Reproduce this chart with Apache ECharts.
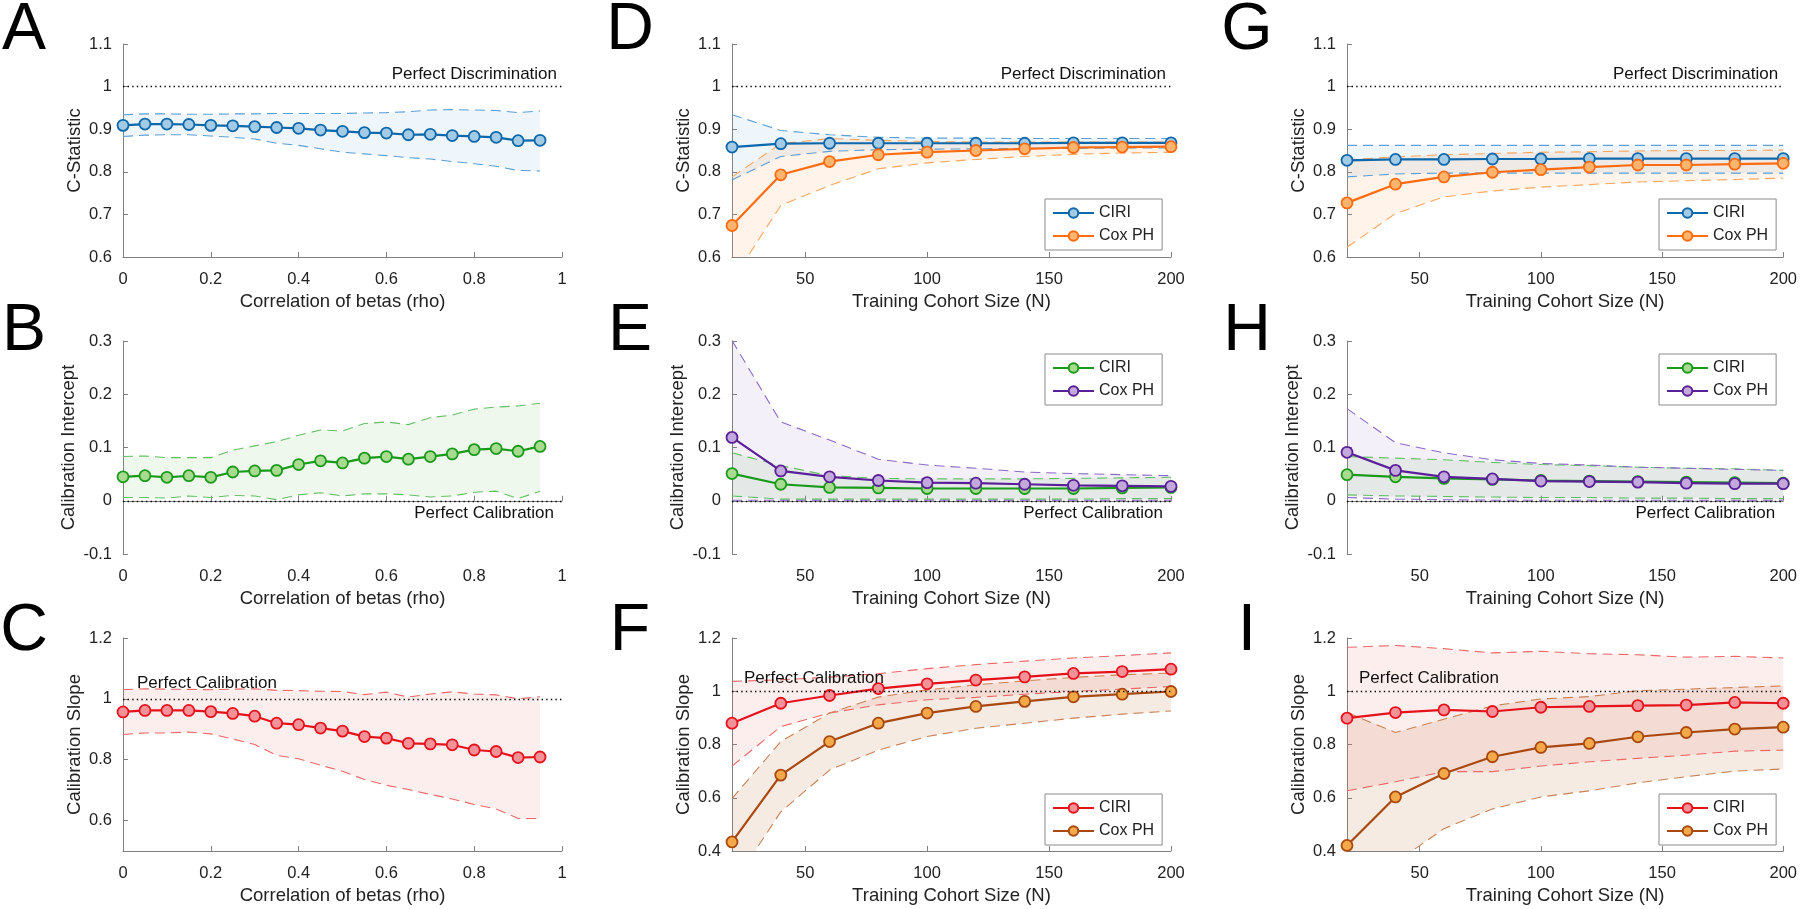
<!DOCTYPE html>
<html><head><meta charset="utf-8">
<script src="https://cdn.jsdelivr.net/npm/echarts@6/dist/echarts.min.js"></script>
<style>html,body{margin:0;padding:0;background:#fff}#chart{width:1800px;height:909px}</style>
</head><body><div id="chart"></div>
<script>
// ---------------- DATA ----------------
const rho = [0, 0.05, 0.1, 0.15, 0.2, 0.25, 0.3, 0.35, 0.4, 0.45, 0.5, 0.55, 0.6, 0.65, 0.7, 0.75, 0.8, 0.85, 0.9, 0.95];
const N = [20, 40, 60, 80, 100, 120, 140, 160, 180, 200];
const N_TICKS = [50, 100, 150, 200];
const SLOPE_C_TICKS = [0.6, 0.8, 1, 1.2];
const REF_C = 1, REF_INT = 0, REF_SLOPE = 1;

const A_mean = [0.909, 0.912, 0.912, 0.911, 0.909, 0.908, 0.906, 0.904, 0.902, 0.898, 0.895, 0.892, 0.891, 0.887, 0.888, 0.885, 0.883, 0.881, 0.873, 0.874];
const A_hi   = [0.934, 0.936, 0.936, 0.935, 0.935, 0.936, 0.936, 0.937, 0.937, 0.937, 0.937, 0.938, 0.939, 0.941, 0.945, 0.946, 0.945, 0.944, 0.939, 0.943];
const A_lo   = [0.883, 0.886, 0.887, 0.887, 0.884, 0.881, 0.877, 0.867, 0.862, 0.854, 0.846, 0.842, 0.838, 0.833, 0.830, 0.824, 0.819, 0.813, 0.803, 0.802];

const B_mean = [0.045, 0.047, 0.044, 0.047, 0.044, 0.054, 0.056, 0.057, 0.068, 0.075, 0.071, 0.080, 0.083, 0.078, 0.083, 0.088, 0.096, 0.098, 0.093, 0.102];
const B_hi   = [0.083, 0.084, 0.081, 0.081, 0.081, 0.095, 0.103, 0.111, 0.123, 0.133, 0.131, 0.145, 0.148, 0.143, 0.156, 0.161, 0.172, 0.176, 0.178, 0.183];
const B_lo   = [0.006, 0.006, 0.005, 0.009, 0.006, 0.010, 0.009, 0.002, 0.011, 0.015, 0.009, 0.013, 0.013, 0.011, 0.007, 0.009, 0.016, 0.018, 0.004, 0.018];

const C_mean = [0.957, 0.962, 0.962, 0.962, 0.958, 0.952, 0.943, 0.920, 0.915, 0.904, 0.894, 0.876, 0.871, 0.854, 0.852, 0.849, 0.832, 0.827, 0.807, 0.809];
const C_hi   = [1.030, 1.033, 1.032, 1.031, 1.030, 1.032, 1.033, 1.028, 1.027, 1.025, 1.024, 1.014, 1.022, 1.006, 1.016, 1.023, 1.016, 1.013, 1.000, 1.007];
const C_lo   = [0.883, 0.888, 0.888, 0.891, 0.885, 0.868, 0.850, 0.814, 0.803, 0.782, 0.762, 0.735, 0.716, 0.702, 0.686, 0.671, 0.653, 0.638, 0.607, 0.607];

const D_ciri    = [0.858, 0.866, 0.867, 0.867, 0.867, 0.867, 0.867, 0.868, 0.868, 0.868];
const D_ciri_hi = [0.934, 0.897, 0.887, 0.881, 0.879, 0.879, 0.878, 0.878, 0.878, 0.878];
const D_ciri_lo = [0.781, 0.836, 0.848, 0.852, 0.853, 0.854, 0.855, 0.855, 0.856, 0.856];
const D_cox     = [0.674, 0.793, 0.824, 0.840, 0.846, 0.850, 0.854, 0.857, 0.858, 0.859];
const D_cox_hi  = [0.788, 0.866, 0.878, 0.874, 0.871, 0.870, 0.870, 0.870, 0.870, 0.870];
const D_cox_lo  = [0.544, 0.721, 0.768, 0.807, 0.821, 0.829, 0.836, 0.841, 0.844, 0.846];

const E_ciri    = [0.051, 0.031, 0.025, 0.024, 0.023, 0.023, 0.023, 0.023, 0.024, 0.025];
const E_ciri_hi = [0.090, 0.066, 0.047, 0.042, 0.041, 0.041, 0.041, 0.042, 0.043, 0.044];
const E_ciri_lo = [0.009, 0.003, 0.003, 0.003, 0.003, 0.003, 0.003, 0.003, 0.004, 0.004];
const E_cox     = [0.119, 0.056, 0.045, 0.038, 0.034, 0.033, 0.031, 0.029, 0.028, 0.027];
const E_cox_hi  = [0.301, 0.148, 0.114, 0.078, 0.067, 0.061, 0.054, 0.051, 0.049, 0.047];
const E_cox_lo  = [0.001, 0.001, 0.001, 0.001, 0.001, 0.001, 0.001, 0.001, 0.001, 0.001];

const F_ciri    = [0.880, 0.955, 0.984, 1.010, 1.028, 1.042, 1.054, 1.067, 1.074, 1.083];
const F_ciri_hi = [1.037, 1.043, 1.053, 1.066, 1.085, 1.100, 1.113, 1.125, 1.134, 1.144];
const F_ciri_lo = [0.719, 0.867, 0.918, 0.949, 0.968, 0.977, 0.989, 0.999, 1.008, 1.018];
const F_cox     = [0.434, 0.685, 0.811, 0.880, 0.918, 0.943, 0.962, 0.979, 0.989, 0.999];
const F_cox_hi  = [0.597, 0.811, 0.918, 0.978, 1.005, 1.024, 1.039, 1.052, 1.062, 1.068];
const F_cox_lo  = [0.269, 0.547, 0.704, 0.779, 0.830, 0.861, 0.880, 0.899, 0.914, 0.926];

const G_ciri    = [0.827, 0.829, 0.829, 0.830, 0.830, 0.831, 0.831, 0.831, 0.831, 0.831];
const G_ciri_hi = [0.862, 0.862, 0.862, 0.862, 0.862, 0.862, 0.862, 0.862, 0.862, 0.862];
const G_ciri_lo = [0.788, 0.795, 0.797, 0.797, 0.797, 0.797, 0.797, 0.797, 0.797, 0.797];
const G_cox     = [0.727, 0.771, 0.788, 0.799, 0.805, 0.811, 0.816, 0.816, 0.818, 0.820];
const G_cox_hi  = [0.828, 0.835, 0.840, 0.843, 0.846, 0.847, 0.849, 0.850, 0.850, 0.851];
const G_cox_lo  = [0.623, 0.702, 0.741, 0.755, 0.764, 0.770, 0.776, 0.779, 0.782, 0.785];

const H_ciri    = [0.049, 0.045, 0.042, 0.040, 0.038, 0.037, 0.036, 0.035, 0.034, 0.033];
const H_ciri_hi = [0.083, 0.080, 0.077, 0.072, 0.068, 0.066, 0.063, 0.061, 0.060, 0.057];
const H_ciri_lo = [0.011, 0.009, 0.008, 0.007, 0.006, 0.006, 0.005, 0.005, 0.004, 0.004];
const H_cox     = [0.091, 0.057, 0.045, 0.041, 0.037, 0.036, 0.035, 0.033, 0.032, 0.032];
const H_cox_hi  = [0.173, 0.109, 0.090, 0.077, 0.070, 0.067, 0.063, 0.061, 0.059, 0.057];
const H_cox_lo  = [0.006, 0.003, 0.002, 0.001, 0.001, 0.001, 0.001, 0.001, 0.001, 0.001];

const I_ciri    = [0.899, 0.920, 0.930, 0.924, 0.940, 0.943, 0.946, 0.948, 0.958, 0.955];
const I_ciri_hi = [1.165, 1.172, 1.160, 1.144, 1.150, 1.141, 1.137, 1.128, 1.131, 1.125];
const I_ciri_lo = [0.626, 0.660, 0.698, 0.698, 0.719, 0.735, 0.748, 0.760, 0.775, 0.779];
const I_cox     = [0.421, 0.603, 0.691, 0.754, 0.789, 0.804, 0.829, 0.845, 0.858, 0.865];
const I_cox_hi  = [0.920, 0.845, 0.895, 0.945, 0.971, 0.980, 1.002, 1.008, 1.014, 1.020];
const I_cox_lo  = [0.250, 0.357, 0.484, 0.558, 0.603, 0.626, 0.656, 0.679, 0.700, 0.708];

// ---------------- STYLE / LAYOUT ----------------
const FONT = '"Liberation Sans", Arial, Helvetica, sans-serif';
const TXT = '#222222';
const AXC = '#808080';
const COLORS = {
  blue:   {line: '#0d67ab', fill: '#a3cbe6', dash: '#5b9fd6', band: 'rgba(91,159,214,0.10)'},
  orange: {line: '#ff6b0f', fill: '#fbb56e', dash: '#fca65c', band: 'rgba(252,166,92,0.13)'},
  green:  {line: '#1a9a1a', fill: '#a8db8f', dash: '#63bf63', band: 'rgba(110,195,90,0.11)'},
  purple: {line: '#5a1f99', fill: '#c3a9db', dash: '#8c68c8', band: 'rgba(140,104,200,0.10)'},
  red:    {line: '#e5121b', fill: '#f4929a', dash: '#ee6666', band: 'rgba(238,102,102,0.11)'},
  brown:  {line: '#a9480f', fill: '#f3a849', dash: '#c98255', band: 'rgba(190,110,60,0.14)'}
};
const COLS = [123, 732, 1347];
const ROWS = [44, 341, 638];
const GW = 439, GH = 213;
const LETTER_X = [24, 630, 1247];
const LETTER_Y = [31, 332, 632];
const LEG_LEFT = [null, 1045, 1659];
const LEG_TOP = [199, 354, 794];

const YCFG = {
  c:      {min: 0.6, max: 1.1, interval: 0.1, name: 'C-Statistic', nameGap: 38.5},
  int:    {min: -0.1, max: 0.3, interval: 0.1, name: 'Calibration Intercept', nameGap: 45},
  slope:  {min: 0.4, max: 1.2, interval: 0.2, name: 'Calibration Slope', nameGap: 38.5},
  slopeC: {min: 0.5, max: 1.2, ticks: SLOPE_C_TICKS, name: 'Calibration Slope', nameGap: 38.5}
};
const REFS = {
  top:    {v: REF_C, text: 'Perfect Discrimination', pos: 'insideEndTop', dist: [5, 4]},
  bottom: {v: REF_INT, text: 'Perfect Calibration', pos: 'insideEndBottom', dist: [8, 4]},
  startC: {v: REF_SLOPE, text: 'Perfect Calibration', pos: 'insideStartTop', dist: [14, 7]},
  start:  {v: REF_SLOPE, text: 'Perfect Calibration', pos: 'insideStartTop', dist: [12, 4]}
};

const panels = [
  {id: 'A', c: 0, r: 0, kind: 'rho', yk: 'c', ref: 'top',
   series: [{name: 'CIRI', col: 'blue', m: A_mean, hi: A_hi, lo: A_lo}]},
  {id: 'B', c: 0, r: 1, kind: 'rho', yk: 'int', ref: 'bottom',
   series: [{name: 'CIRI', col: 'green', m: B_mean, hi: B_hi, lo: B_lo}]},
  {id: 'C', c: 0, r: 2, kind: 'rho', yk: 'slopeC', ref: 'startC',
   series: [{name: 'CIRI', col: 'red', m: C_mean, hi: C_hi, lo: C_lo}]},
  {id: 'D', c: 1, r: 0, kind: 'N', yk: 'c', ref: 'top', legend: true,
   series: [{name: 'CIRI', col: 'blue', m: D_ciri, hi: D_ciri_hi, lo: D_ciri_lo},
            {name: 'Cox PH', col: 'orange', m: D_cox, hi: D_cox_hi, lo: D_cox_lo}]},
  {id: 'E', c: 1, r: 1, kind: 'N', yk: 'int', ref: 'bottom', legend: true,
   series: [{name: 'CIRI', col: 'green', m: E_ciri, hi: E_ciri_hi, lo: E_ciri_lo},
            {name: 'Cox PH', col: 'purple', m: E_cox, hi: E_cox_hi, lo: E_cox_lo}]},
  {id: 'F', c: 1, r: 2, kind: 'N', yk: 'slope', ref: 'start', legend: true,
   series: [{name: 'CIRI', col: 'red', m: F_ciri, hi: F_ciri_hi, lo: F_ciri_lo},
            {name: 'Cox PH', col: 'brown', m: F_cox, hi: F_cox_hi, lo: F_cox_lo}]},
  {id: 'G', c: 2, r: 0, kind: 'N', yk: 'c', ref: 'top', legend: true,
   series: [{name: 'CIRI', col: 'blue', m: G_ciri, hi: G_ciri_hi, lo: G_ciri_lo},
            {name: 'Cox PH', col: 'orange', m: G_cox, hi: G_cox_hi, lo: G_cox_lo}]},
  {id: 'H', c: 2, r: 1, kind: 'N', yk: 'int', ref: 'bottom', legend: true,
   series: [{name: 'CIRI', col: 'green', m: H_ciri, hi: H_ciri_hi, lo: H_ciri_lo},
            {name: 'Cox PH', col: 'purple', m: H_cox, hi: H_cox_hi, lo: H_cox_lo}]},
  {id: 'I', c: 2, r: 2, kind: 'N', yk: 'slope', ref: 'start', legend: true,
   series: [{name: 'CIRI', col: 'red', m: I_ciri, hi: I_ciri_hi, lo: I_ciri_lo},
            {name: 'Cox PH', col: 'brown', m: I_cox, hi: I_cox_hi, lo: I_cox_lo}]}
];

// ---------------- BUILD ----------------
const option = {animation: false, backgroundColor: '#fff', grid: [], xAxis: [], yAxis: [], series: [], legend: [], graphic: []};
const axLine = {show: true, lineStyle: {color: AXC, width: 1}};
const labelStyle = {color: TXT, fontSize: 16.5, fontFamily: FONT};
const nameStyle = {color: TXT, fontSize: 18.5, fontFamily: FONT};

panels.forEach((p, i) => {
  option.grid.push({left: COLS[p.c], top: ROWS[p.r], width: GW, height: GH, containLabel: false});
  const xs = p.kind === 'rho' ? rho : N;

  const xa = {gridIndex: i, type: 'value', nameLocation: 'middle', nameGap: 35, nameTextStyle: nameStyle,
    axisLine: axLine, splitLine: {show: false},
    axisTick: {show: true, inside: true, length: 5, lineStyle: {color: AXC}},
    axisLabel: Object.assign({margin: 14}, labelStyle)};
  if (p.kind === 'rho') {
    Object.assign(xa, {min: 0, max: 1, interval: 0.2, name: 'Correlation of betas (rho)'});
  } else {
    Object.assign(xa, {min: 20, max: 200, name: 'Training Cohort Size (N)'});
    xa.axisTick.customValues = N_TICKS;
    xa.axisLabel.customValues = N_TICKS;
  }
  option.xAxis.push(xa);

  const yc = YCFG[p.yk];
  const ya = {gridIndex: i, type: 'value', min: yc.min, max: yc.max, name: yc.name, nameLocation: 'middle',
    nameGap: yc.nameGap, nameTextStyle: nameStyle, axisLine: axLine, splitLine: {show: false},
    axisTick: {show: true, inside: true, length: 5, lineStyle: {color: AXC}},
    axisLabel: Object.assign({margin: 11}, labelStyle)};
  if (yc.ticks) { ya.axisTick.customValues = yc.ticks; ya.axisLabel.customValues = yc.ticks; ya.interval = 0.1; }
  else ya.interval = yc.interval;
  option.yAxis.push(ya);

  // bands
  p.series.forEach(s => {
    const col = COLORS[s.col];
    option.series.push({
      type: 'custom', xAxisIndex: i, yAxisIndex: i, clip: true, silent: true, z: 1,
      data: xs.map((x, k) => [x, s.lo[k], s.hi[k]]),
      encode: {x: 0, y: [1, 2]},
      renderItem: (params, api) => {
        if (params.dataIndex !== 0) return null;
        const pts = [];
        for (let k = 0; k < xs.length; k++) pts.push(api.coord([xs[k], s.hi[k]]));
        for (let k = xs.length - 1; k >= 0; k--) pts.push(api.coord([xs[k], s.lo[k]]));
        return {type: 'polygon', shape: {points: pts}, style: {fill: col.band}};
      }
    });
  });
  // dashed bounds
  p.series.forEach(s => {
    const col = COLORS[s.col];
    [s.hi, s.lo].forEach(arr => {
      option.series.push({type: 'line', xAxisIndex: i, yAxisIndex: i, silent: true, z: 2,
        data: xs.map((x, k) => [x, arr[k]]), symbol: 'none',
        lineStyle: {color: col.dash, width: 1.1, type: [10, 6]}, emphasis: {disabled: true}});
    });
  });
  // means
  const ref = REFS[p.ref];
  p.series.forEach((s, j) => {
    const col = COLORS[s.col];
    const ser = {type: 'line', name: s.name + ' [' + p.id + ']', xAxisIndex: i, yAxisIndex: i, z: 3 + j,
      data: xs.map((x, k) => [x, s.m[k]]), symbol: 'circle', symbolSize: 11, showAllSymbol: true,
      lineStyle: {color: col.line, width: 2.2}, itemStyle: {color: col.fill, borderColor: col.line, borderWidth: 1.8},
      emphasis: {disabled: true}};
    if (j === 0) {
      ser.markLine = {silent: true, symbol: ['none', 'none'], data: [{yAxis: ref.v}],
        lineStyle: {color: '#000', width: 1.4, type: [1.4, 3.2]},
        label: {show: true, position: ref.pos, formatter: ref.text, fontSize: 17, color: '#111', fontFamily: FONT, distance: ref.dist},
        emphasis: {disabled: true}};
    }
    option.series.push(ser);
  });

  if (p.legend) {
    option.legend.push({show: true, orient: 'vertical', left: LEG_LEFT[p.c], top: LEG_TOP[p.r],
      data: p.series.map(s => s.name + ' [' + p.id + ']'),
      formatter: n => n.replace(/ \[.\]$/, ''),
      itemWidth: 41, itemHeight: 12, itemGap: 7, padding: [6, 8, 6, 7],
      borderColor: '#8a8a8a', borderWidth: 1, backgroundColor: '#fff', selectedMode: false,
      textStyle: {fontSize: 16, color: TXT, fontFamily: FONT}});
  }

  option.graphic.push({type: 'text', x: LETTER_X[p.c], y: LETTER_Y[p.r], silent: true,
    style: {text: p.id, font: '66px ' + FONT, fill: '#000', align: 'center', verticalAlign: 'middle',
            textAlign: 'center', textVerticalAlign: 'middle'}});
});

const chart = echarts.init(document.getElementById('chart'), null, {renderer: 'canvas'});
chart.setOption(option);
</script></body></html>
